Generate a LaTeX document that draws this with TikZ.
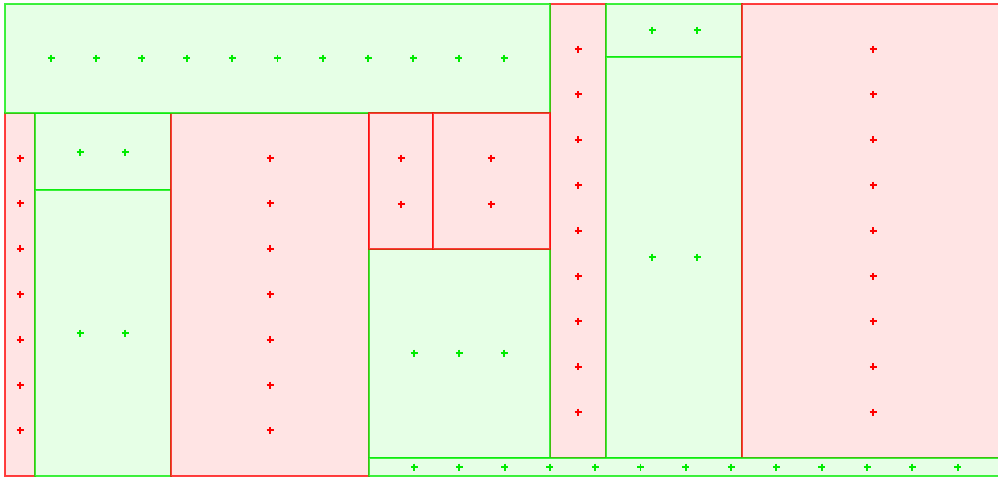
\documentclass[tikz,border=0pt]{standalone}

\definecolor{cellred}{RGB}{255,0,0}
\definecolor{cellredfill}{RGB}{255,228,228}
\definecolor{cellgreen}{RGB}{0,235,0}
\definecolor{cellgreenfill}{RGB}{230,255,230}

\tikzset{
  redcell/.style={fill=cellredfill, draw=cellred, draw opacity=0.75, line width=0.6pt},
  greencell/.style={fill=cellgreenfill, draw=cellgreen, draw opacity=0.75, line width=0.6pt},
  redmark/.pic={\draw[cellred, line width=1.1pt] (-3.5,0) -- (3.5,0) (0,-3.5) -- (0,3.5);},
  greenmark/.pic={\draw[cellgreen, line width=1.1pt] (-3.5,0) -- (3.5,0) (0,-3.5) -- (0,3.5);},
}

\begin{document}
\begin{tikzpicture}[x=0.02cm, y=-0.02cm]
  \useasboundingbox (0,0) rectangle (998,477);
  \clip (0,0) rectangle (998,477);
  % cells
  \draw[redcell] (550,4) rectangle (606,458);
  \draw[redcell] (5,113) rectangle (35,476);
  \draw[greencell] (35,113) rectangle (171,190);
  \draw[greencell] (35,190) rectangle (171,476);
  \draw[redcell] (171,113) rectangle (369,476);
  \draw[greencell] (5,4) rectangle (550,113);
  \draw[greencell] (369,249) rectangle (550,458);
  \draw[redcell] (369,113) rectangle (433,249);
  \draw[redcell] (433,113) rectangle (550,249);
  \draw[greencell] (606,4) rectangle (742,57);
  \draw[greencell] (606,57) rectangle (742,458);
  \draw[redcell] (742,4) rectangle (1001,458);
  \draw[greencell] (369,458) rectangle (1001,476);
  % top band
  \foreach \i in {0,...,10}
    \pic at ({51+45.3*\i},58) {greenmark};
  % left strip and wide red column
  \foreach \i in {0,...,6} {
    \pic at (20,{158+45.4*\i}) {redmark};
    \pic at (270,{158+45.4*\i}) {redmark};
  }
  % small green pair
  \pic at (80,152) {greenmark};
  \pic at (125,152) {greenmark};
  \pic at (80,333) {greenmark};
  \pic at (125,333) {greenmark};
  % middle red pair
  \pic at (401,158) {redmark};
  \pic at (401,204) {redmark};
  \pic at (491,158) {redmark};
  \pic at (491,204) {redmark};
  % middle green
  \pic at (414,353) {greenmark};
  \pic at (459,353) {greenmark};
  \pic at (504,353) {greenmark};
  % bottom band
  \foreach \i in {0,...,12}
    \pic at ({414+45.3*\i},467) {greenmark};
  % tall red columns
  \foreach \i in {0,...,8} {
    \pic at (578,{49+45.4*\i}) {redmark};
    \pic at (873,{49+45.4*\i}) {redmark};
  }
  % right green pair
  \pic at (652,30) {greenmark};
  \pic at (697,30) {greenmark};
  \pic at (652,257) {greenmark};
  \pic at (697,257) {greenmark};
\end{tikzpicture}
\end{document}
